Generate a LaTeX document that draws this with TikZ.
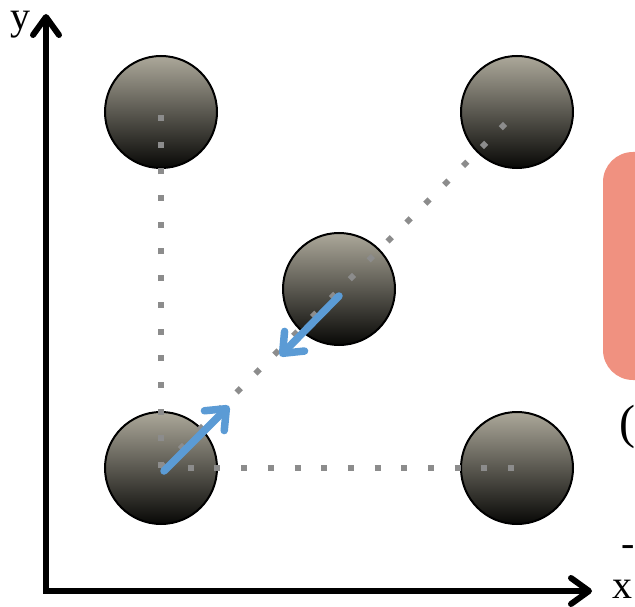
\documentclass[tikz,border=0pt]{standalone}
\usepackage{fontspec}
\setmainfont{Liberation Serif}
\usetikzlibrary{arrows.meta}
\definecolor{ballTop}{RGB}{172,168,154}
\definecolor{ballMid}{RGB}{132,127,114}
\definecolor{ballBot}{RGB}{8,8,6}
\definecolor{dotGray}{RGB}{140,140,140}
\definecolor{moveBlue}{RGB}{91,155,213}
\definecolor{boxSalmon}{RGB}{240,145,128}
\tikzset{
  ball/.style={circle, minimum size=112pt, inner sep=0pt, draw=black, line width=2pt,
    top color=ballTop, middle color=ballMid, bottom color=ballBot, shading angle=0},
  guide/.style={draw=dotGray, line width=6pt, line cap=butt, dash pattern=on 6pt off 20.7pt},
  axis/.style={line width=6pt, -{Straight Barb[length=18pt,width=26pt,line cap=round,line join=round]}},
  hop/.style={draw=moveBlue, line width=7.5pt, line cap=round,
    -{Straight Barb[length=17pt,width=28pt,line cap=round,line join=round]}},
  label/.style={font=\fontsize{40}{40}\selectfont, inner sep=0pt}
}
\begin{document}
\begin{tikzpicture}[x=1pt,y=-1pt]
\useasboundingbox (0,0) rectangle (635,607);
\clip (0,0) rectangle (635,607);
% side panel, partly outside the frame
\fill[boxSalmon, rounded corners=30pt] (603,152) rectangle (700,380);
\node[label, font=\fontsize{48}{48}\selectfont, anchor=base west] (paren) at (619,438) {(};
\node[label, anchor=base west] (dash) at (621,556) {-};
% lattice atoms
\node[ball] (tl) at (161,112) {};
\node[ball] (tr) at (517,112) {};
\node[ball] (mid) at (339,289) {};
\node[ball] (bl) at (161,468) {};
\node[ball] (br) at (517,468) {};
% lattice guides
\draw[guide] (bl.center) -- (tl.center);
\draw[guide] (bl.center) -- (br.center);
\draw[guide] (bl.center) -- (tr.center);
% displacements along the diagonal
\coordinate (hopA) at (229,406);
\coordinate (hopB) at (280,356);
\coordinate (startA) at (164,471);
\coordinate (startB) at (339,296);
\draw[hop] (startA) -- (hopA);
\draw[hop] (startB) -- (hopB);
% axes
\coordinate (origin) at (46,591);
\coordinate (ytip) at (46,14);
\coordinate (xtip) at (592,591);
\draw[axis, line cap=butt] (origin) -- (ytip);
\draw[axis, line cap=butt] (43,591) -- (xtip);
\node[label, anchor=base] (ylab) at (20,30) {y};
\node[label, anchor=base] (xlab) at (622,598) {x};
\end{tikzpicture}
\end{document}
